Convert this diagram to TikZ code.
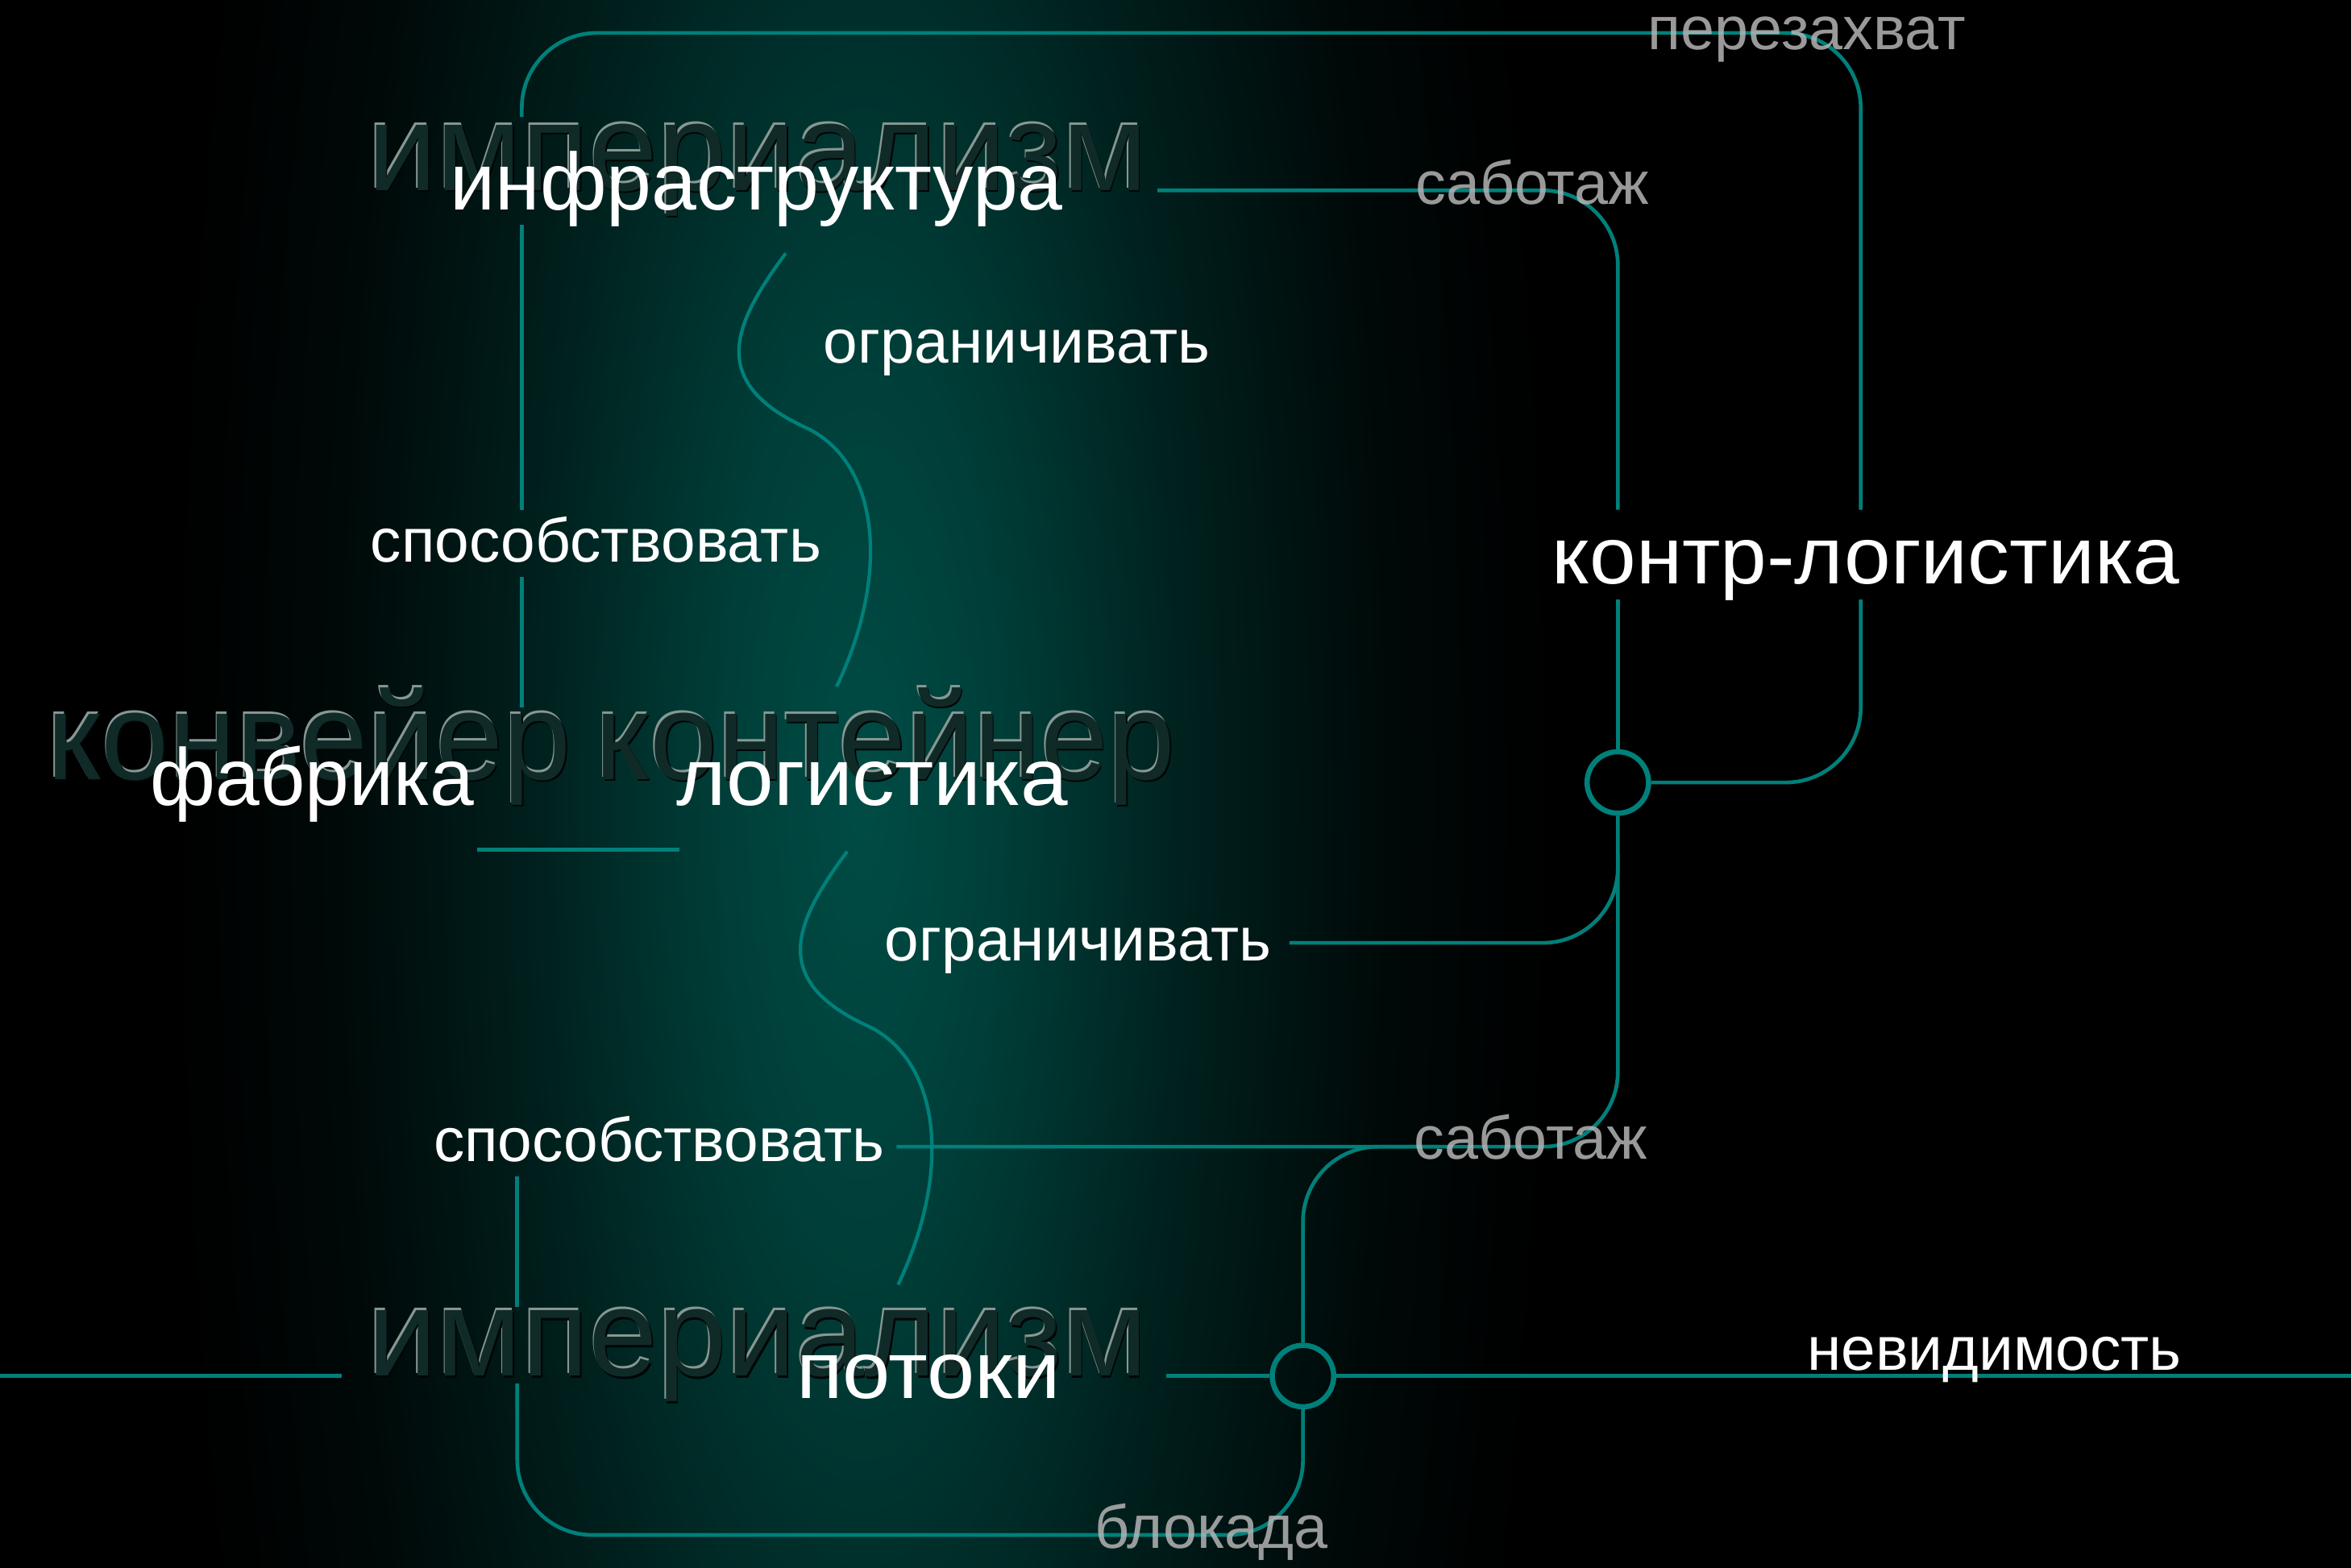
\documentclass[tikz,border=0pt]{standalone}
\usepackage{fontspec}
\setmainfont{Liberation Sans}
\definecolor{tealline}{RGB}{0,128,122}
\definecolor{glowc}{RGB}{0,76,69}
\definecolor{ghostfill}{RGB}{16,42,40}
\definecolor{ghosthi}{RGB}{135,152,147}
\definecolor{greylab}{RGB}{180,180,180}
\pgfdeclareradialshading{glow}{\pgfpoint{0bp}{0bp}}{color(0bp)=(glowc); color(5bp)=(glowc!82!black); color(12bp)=(glowc!42!black); color(19bp)=(glowc!12!black); color(25bp)=(black); color(50bp)=(black)}
\newcommand\ghostword[3]{%
  \node[ghost, text=ghosthi, xshift=-0.9pt, yshift=1.7pt] (#1h) at #2 {#3};
  \node[ghost, text=black!85!ghostfill, xshift=0.9pt, yshift=-1.3pt] (#1s) at #2 {#3};
  \node[ghost, text=ghostfill] (#1) at #2 {#3};
}
\begin{document}
\begin{tikzpicture}[x=1pt,y=-1pt,
  ghost/.style={font=\fontsize{82.5}{90}\selectfont, anchor=base west, inner sep=0pt},
  mainlab/.style={font=\fontsize{54}{60}\selectfont, text=white, anchor=base west, inner sep=0pt},
  edgelab/.style={font=\fontsize{41.2}{48}\selectfont, text=white, anchor=base west, inner sep=0pt},
  greylabel/.style={font=\fontsize{40.6}{48}\selectfont, text=greylab, text opacity=0.85, anchor=base west, inner sep=0pt},
  conn/.style={draw=tealline, line width=2.5pt},
  wave/.style={draw=tealline, line width=2.3pt},
  ring/.style={circle, draw=tealline, line width=3.5pt, minimum size=41pt, inner sep=0pt}]
\useasboundingbox (0,0) rectangle (1568,1046);
% background and glow
\begin{scope}
\clip (0,0) rectangle (1568,1046);
\fill[black] (0,0) rectangle (1568,1046);
\shade[shading=glow] (115,-1000) rectangle (1035,2060);
\end{scope}
% ghost words
\ghostword{gTop}{(245,127)}{империализм}
\ghostword{gMidA}{(31,520)}{\scalebox{0.985}[1]{конвейер}}
\ghostword{gMidB}{(397,520)}{\scalebox{0.98}[1]{контейнер}}
\ghostword{gBot}{(245,918)}{империализм}
% rings
\node[ring] (r1) at (1079,522) {};
\node[ring] (r2) at (869,918) {};
% coordinates
\coordinate (kTopR) at (1241,400);
\coordinate (kTopR2) at (1241,340);
\coordinate (cTR) at (1241,22);
\coordinate (cTL) at (348,22);
\coordinate (vL1) at (348,78);
\coordinate (vL2) at (348,150);
\coordinate (vL3) at (348,340);
\coordinate (vL4) at (348,385);
\coordinate (vL5) at (348,472);
\coordinate (sabL) at (772,127);
\coordinate (kTopM) at (1079,340);
\coordinate (kBotM) at (1079,400);
\coordinate (sposR) at (598,765);
\coordinate (ogrR) at (860,629);
\coordinate (ogrJ) at (1079,570);
\coordinate (sabJ) at (960,765);
\coordinate (potL0) at (0,918);
\coordinate (potL1) at (228,918);
\coordinate (potR0) at (778,918);
\coordinate (potRend) at (1568,918);
\coordinate (cBL) at (345,1024);
\coordinate (blkL) at (345,923);
\coordinate (blkL2) at (345,872);
\coordinate (blkL3) at (345,785);
\coordinate (fabE) at (318,567);
\coordinate (logW) at (453,567);
\coordinate (w1s) at (524,169);
\coordinate (w1m) at (539,286);
\coordinate (w1e) at (558,458);
\coordinate (w2s) at (565,568);
\coordinate (w2m) at (580,685);
\coordinate (w2e) at (599,857);
% connectors
\draw[conn, rounded corners=50pt] (r1.east) -| (kTopR);
\draw[conn, rounded corners=50pt] (kTopR2) -- (cTR) -- (cTL) -- (vL1);
\draw[conn] (vL2) -- (vL3);
\draw[conn] (vL4) -- (vL5);
\draw[conn, rounded corners=50pt] (sabL) -| (kTopM);
\draw[conn] (kBotM) -- (r1.north);
\draw[conn, rounded corners=50pt] (r1.south) |- (sposR);
\draw[conn, rounded corners=50pt] (ogrR) -| (ogrJ);
\draw[conn, rounded corners=50pt] (r2.north) |- (sabJ);
\draw[conn] (potL0) -- (potL1);
\draw[conn] (potR0) -- (r2.west);
\draw[conn] (r2.east) -- (potRend);
\draw[conn, rounded corners=50pt] (r2.south) |- (cBL) -- (blkL);
\draw[conn] (blkL2) -- (blkL3);
\draw[conn] (fabE) -- (logW);
\draw[wave] (w1s) .. controls (490,215) and (470,255) .. (w1m) .. controls (585,309) and (595,380) .. (w1e);
\draw[wave] (w2s) .. controls (531,614) and (511,654) .. (w2m) .. controls (626,708) and (636,779) .. (w2e);
% main labels
\node[mainlab] (infra) at (300,140) {инфраструктура};
\node[mainlab] (fab) at (100,537.5) {\scalebox{0.98}[1]{фабрика}};
\node[mainlab] (logi) at (451,537.5) {\scalebox{1.049}[1]{логистика}};
\node[mainlab] (kontr) at (1035,389.5) {\scalebox{1.032}[1]{контр-логистика}};
\node[mainlab] (potoki) at (531,933) {\scalebox{1.06}[1]{потоки}};
% edge labels
\node[edgelab] (ogr1) at (549,242) {ограничивать};
\node[edgelab] (spos1) at (247,375) {способствовать};
\node[edgelab] (ogr2) at (590,641) {ограничивать};
\node[edgelab] (spos2) at (289,775) {способствовать};
\node[edgelab] (nevid) at (1205,914) {невидимость};
% grey labels
\node[greylabel] (perez) at (1099,33) {перезахват};
\node[greylabel] (sab1) at (944,136) {саботаж};
\node[greylabel] (sab2) at (943,773) {саботаж};
\node[greylabel] (blok) at (730,1033) {блокада};
\end{tikzpicture}
\end{document}
